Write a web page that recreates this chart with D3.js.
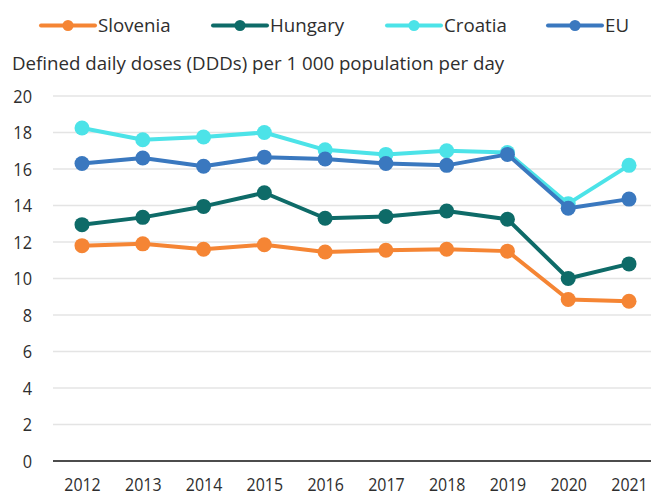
<!DOCTYPE html>
<html><head><meta charset="utf-8">
<script src="https://cdn.jsdelivr.net/npm/d3@7"></script>
<style>body{margin:0;background:#fff}svg{display:block}text{font-family:"Open Sans",sans-serif;fill:#2e2e2e}</style>
</head><body><svg id="c" width="651" height="496"></svg>
<script>
const years = [2012,2013,2014,2015,2016,2017,2018,2019,2020,2021];
const slovenia = [11.8,11.9,11.6,11.85,11.45,11.55,11.6,11.5,8.85,8.75];
const hungary  = [12.95,13.35,13.95,14.7,13.3,13.4,13.7,13.25,10.0,10.8];
const croatia  = [18.25,17.6,17.75,18.0,17.05,16.8,17.0,16.9,14.1,16.2];
const eu       = [16.3,16.6,16.15,16.65,16.55,16.3,16.2,16.8,13.85,14.35];
const seriesNames = ["Slovenia","Hungary","Croatia","EU"];
const seriesColors = ["#F58534","#0E6B68","#4CE3E8","#3A78BF"];
const yTicks = [0,2,4,6,8,10,12,14,16,18,20];
const yLabel = "Defined daily doses (DDDs) per 1 000 population per day";
const series = [slovenia,hungary,croatia,eu].map((v,i)=>({name:seriesNames[i],color:seriesColors[i],values:v}));

const svg = d3.select("#c");
const x = d3.scalePoint().domain(years).range([82,629]);
const y = d3.scaleLinear().domain([0,20]).range([461,96]);
const FS = 18.7;

svg.append("g").selectAll("line").data(yTicks.filter(d=>d>0)).join("line")
  .attr("x1",53).attr("x2",651).attr("y1",d=>y(d)).attr("y2",d=>y(d))
  .attr("stroke","#e4e4e4").attr("stroke-width",1.5);

const ya = svg.append("g").attr("transform","translate(32,0)")
  .call(d3.axisLeft(y).tickValues(yTicks).tickSize(0).tickPadding(0));
ya.select(".domain").remove();
ya.selectAll("text").attr("font-size",19).attr("font-family",null).attr("transform","scale(0.86,1)");

const xa = svg.append("g").attr("transform","translate(0,461)")
  .call(d3.axisBottom(x).tickSize(0).tickPadding(16.5));
xa.select(".domain").remove();
xa.selectAll("text").attr("font-size",19).attr("font-family",null).attr("transform","scale(0.84,1)");
svg.append("line").attr("x1",53).attr("x2",651).attr("y1",y(0)).attr("y2",y(0))
  .attr("stroke","#111").attr("stroke-width",1.5);

svg.append("text").attr("x",12).attr("y",70).attr("font-size",FS).text(yLabel);

const line = d3.line().x((d,i)=>x(years[i])).y(d=>y(d));
series.forEach(s=>{
  const g = svg.append("g");
  g.append("path").attr("d",line(s.values)).attr("fill","none")
    .attr("stroke",s.color).attr("stroke-width",4).attr("stroke-linejoin","round");
  g.selectAll("circle").data(s.values).join("circle")
    .attr("cx",(d,i)=>x(years[i])).attr("cy",d=>y(d)).attr("r",7.5).attr("fill",s.color);
});

const legX = [41,213,387,548];
series.forEach((s,i)=>{
  const g = svg.append("g").attr("transform",`translate(${legX[i]},25.5)`);
  g.append("line").attr("x1",0).attr("x2",54).attr("stroke",s.color).attr("stroke-width",4).attr("stroke-linecap","round");
  g.append("circle").attr("cx",27).attr("r",5.5).attr("fill",s.color);
  g.append("text").attr("x",57).attr("dy","0.35em").attr("font-size",FS).text(s.name);
});
</script></body></html>
